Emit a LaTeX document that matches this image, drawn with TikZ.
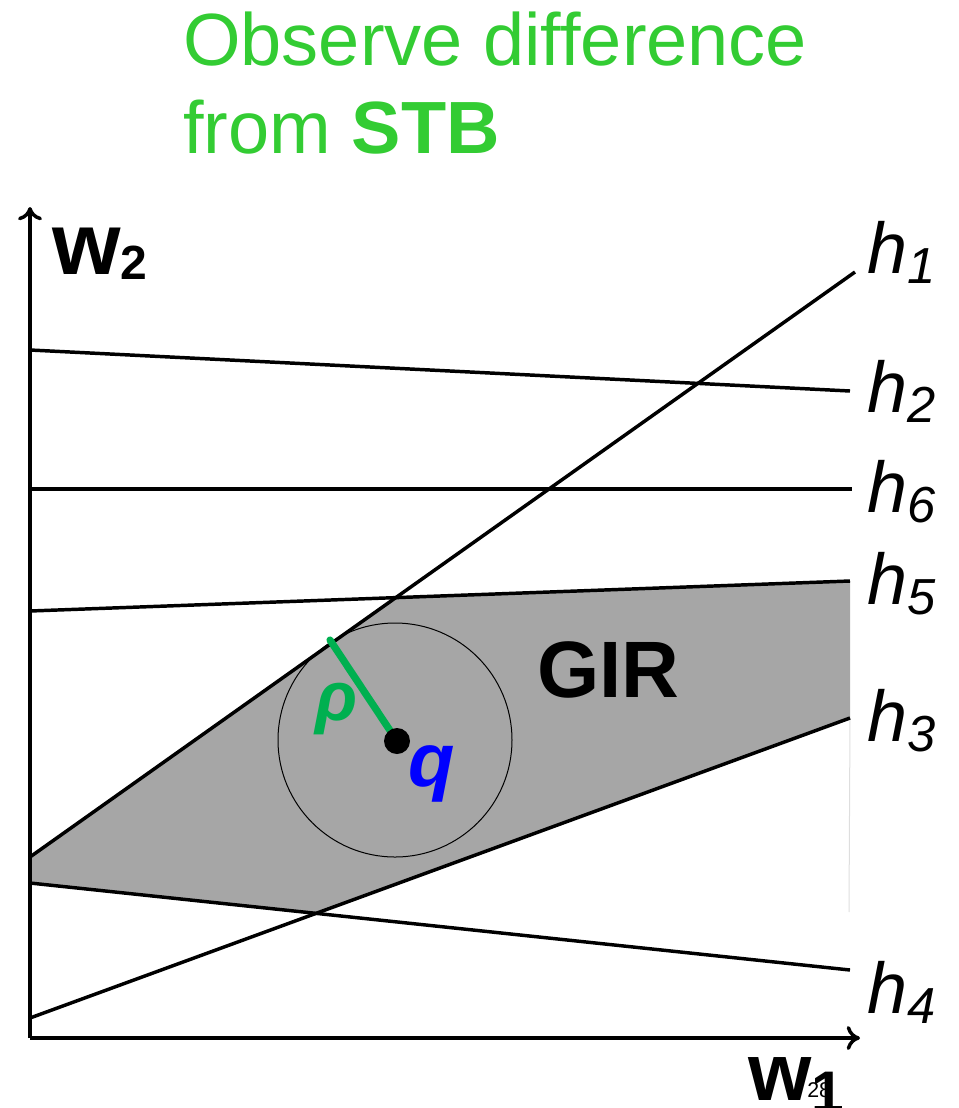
\documentclass[tikz,border=0pt]{standalone}
\usepackage{fontspec}
\setmainfont{Liberation Sans}
\usepackage{tikz}
\usetikzlibrary{arrows.meta}
\definecolor{titlegreen}{HTML}{33CC33}
\definecolor{rhogreen}{HTML}{00B050}
\definecolor{girgray}{HTML}{A6A6A6}
\definecolor{qblue}{HTML}{0000FF}

\newcommand{\hsub}[1]{\itshape h\raisebox{-8pt}{\fontsize{38}{38}\selectfont #1}}

\begin{document}
\begin{tikzpicture}[x=0.75pt, y=-0.75pt,
    axis/.style={line width=2.6pt,
                 -{Computer Modern Rightarrow[length=10pt,width=18pt]}},
    hline/.style={line width=2.6pt},
    hlab/.style={anchor=base west, inner sep=0pt,
                 font=\fontsize{54}{54}\selectfont},
    title/.style={anchor=base west, inner sep=0pt, text=titlegreen,
                  font=\fontsize{55.5}{55.5}\selectfont},
  ]
  \useasboundingbox (0,0) rectangle (958,1108);

  % title
  \node[title] (title1) at (183,65)  {Observe difference};
  \node[title] (title2) at (183,153) {from \textbf{STB}};

  % axes
  \coordinate (o)  at (30,1038);
  \coordinate (xe) at (860,1038);
  \coordinate (ye) at (30,207);

  % half-planes
  \coordinate (h1a) at (30,857);  \coordinate (h1b) at (855,272);
  \coordinate (h2a) at (30,350);  \coordinate (h2b) at (850,391);
  \coordinate (h6a) at (30,489);  \coordinate (h6b) at (852,489);
  \coordinate (h5a) at (30,611);  \coordinate (h5b) at (850,581);
  \coordinate (h3a) at (30,1018); \coordinate (h3b) at (850,718);
  \coordinate (h4a) at (30,883);  \coordinate (h4b) at (850,970);

  % GIR region
  \fill[girgray] (h1a) -- (intersection of h1a--h1b and h5a--h5b)
    -- (h5b) -- (h3b) -- (intersection of h3a--h3b and h4a--h4b)
    -- (h4a) -- cycle;
  \draw[black!13, line width=0.75pt] (h3b) -- (849,912);

  \draw[axis] (o) -- (xe);
  \draw[axis] (o) -- (ye);
  \foreach \h in {1,2,6,5,3,4}
    \draw[hline] (h\h a) -- (h\h b);

  \node[hlab] (lh1) at (867,273)  {\hsub{1}};
  \node[hlab] (lh2) at (867,412)  {\hsub{2}};
  \node[hlab] (lh6) at (867,512)  {\hsub{6}};
  \node[hlab] (lh5) at (867,604)  {\hsub{5}};
  \node[hlab] (lh3) at (867,741)  {\hsub{3}};
  \node[hlab] (lh4) at (867,1013) {\hsub{4}};

  % query point and radius
  \coordinate (q) at (397,741);
  \coordinate (r) at (330,640);
  \draw[line width=0.75pt] (395,740) circle[radius=117];
  \draw[rhogreen, line width=5.4pt, line cap=round] (r) -- (q);
  \fill (q) circle[radius=13];
  \node[anchor=base west, inner sep=0pt, text=rhogreen,
        font=\fontsize{52}{52}\selectfont\bfseries\itshape] (rho) at (315,720) {ρ};
  \node[anchor=base west, inner sep=0pt, text=qblue,
        font=\fontsize{57}{57}\selectfont\bfseries\itshape] (ql) at (408,786) {q};
  \node[anchor=base west, inner sep=0pt,
        font=\fontsize{60}{60}\selectfont\bfseries] (gir) at (537,697) {GIR};

  % axis labels
  \node[anchor=base west, inner sep=0pt, font=\fontsize{66}{66}\selectfont\bfseries]
    (w2) at (52,274) {w\raisebox{-4pt}{\fontsize{36}{36}\selectfont 2}};
  \node[anchor=base west, inner sep=0pt, font=\fontsize{61}{61}\selectfont\bfseries]
    (w1) at (748,1100) {w\raisebox{-9pt}{\fontsize{44}{44}\selectfont 1}};
  \node[anchor=base west, inner sep=0pt, font=\fontsize{16}{16}\selectfont]
    (pg) at (807,1097) {28};
\end{tikzpicture}
\end{document}
